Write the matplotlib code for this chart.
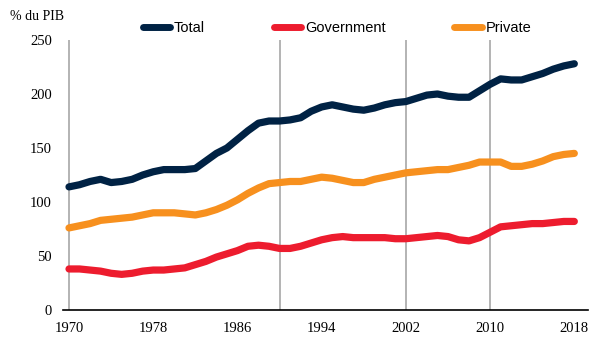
import matplotlib
matplotlib.use("Agg")
import matplotlib.pyplot as plt

years = list(range(1970, 2019))
total = [114, 116, 119, 121, 118, 119, 121, 125, 128, 130, 130, 130, 131, 138, 145, 150, 158, 166, 173, 175,
         175, 176, 178, 184, 188, 190, 188, 186, 185, 187, 190, 192, 193, 196, 199, 200, 198, 197, 197, 203,
         209, 214, 213, 213, 216, 219, 223, 226, 228]
government = [38, 38, 37, 36, 34, 33, 34, 36, 37, 37, 38, 39, 42, 45, 49, 52, 55, 59, 60, 59,
              57, 57, 59, 62, 65, 67, 68, 67, 67, 67, 67, 66, 66, 67, 68, 69, 68, 65, 64, 67,
              72, 77, 78, 79, 80, 80, 81, 82, 82]
private = [76, 78, 80, 83, 84, 85, 86, 88, 90, 90, 90, 89, 88, 90, 93, 97, 102, 108, 113, 117,
           118, 119, 119, 121, 123, 122, 120, 118, 118, 121, 123, 125, 127, 128, 129, 130, 130, 132, 134, 137,
           137, 137, 133, 133, 135, 138, 142, 144, 145]
series_names = ["Total", "Government", "Private"]
colors = ["#002244", "#ED1C2E", "#F7901E"]
xticks = [1970, 1978, 1986, 1994, 2002, 2010, 2018]
yticks = [0, 50, 100, 150, 200, 250]
vlines = [1970, 1990, 2002, 2010]

fig = plt.figure(figsize=(6.05, 3.51), dpi=100)
ax = fig.add_axes([63/605, 1 - 310/351, (588-63)/605, (310-40)/351])

for yr in vlines:
    ax.axvline(yr, color="#b3b3b3", lw=1.4, zorder=1)

for vals, name, c in zip([total, government, private], series_names, colors):
    ax.plot(years, vals, color=c, lw=5.2, label=name, solid_capstyle="round",
            solid_joinstyle="round", zorder=3)

ax.set_xlim(1969.43, 2019.3)
ax.set_ylim(0, 250)
ax.set_xticks(xticks)
ax.set_yticks(yticks)
serif = "Liberation Serif"
ax.set_xticklabels([str(t) for t in xticks], family=serif, fontsize=10.5)
ax.set_yticklabels([str(t) for t in yticks], family=serif, fontsize=10.5)
ax.tick_params(axis="both", length=0, pad=8)
ax.tick_params(axis="x", pad=9)
for s in ["top", "right", "left"]:
    ax.spines[s].set_visible(False)
ax.spines["bottom"].set_color("black")
ax.spines["bottom"].set_linewidth(1.2)

fig.text(10/605, 1 - 16/351, "% du PIB", family=serif, fontsize=10, va="center", ha="left")

leg = fig.legend(loc="center", bbox_to_anchor=(337/605, 1 - 28/351), ncol=3, frameon=False,
                 prop={"family": "Liberation Sans", "size": 10.5}, handlelength=1.9,
                 handletextpad=0.25, columnspacing=4.7)
for h in leg.get_lines():
    h.set_linewidth(5.0)

fig.savefig("out.png", dpi=100)
